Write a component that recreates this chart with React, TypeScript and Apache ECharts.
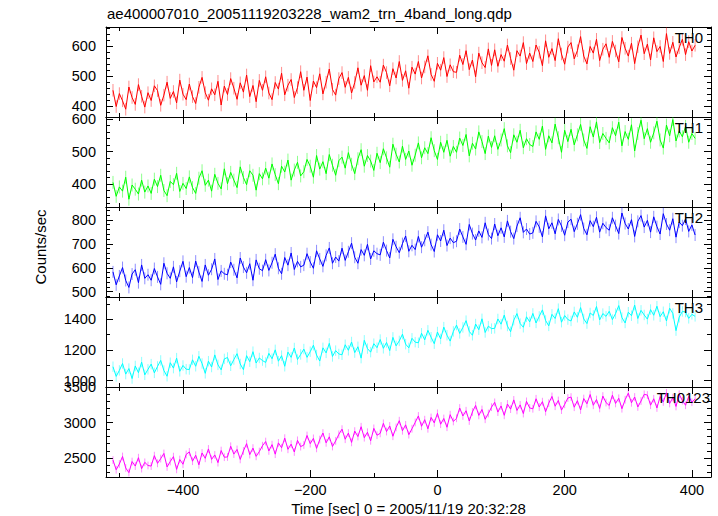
import React, { useEffect, useRef } from "react";
import * as echarts from "echarts";

const TITLE = "ae400007010_20051119203228_wam2_trn_4band_long.qdp";
const X_NAME = "Time [sec] 0 = 2005/11/19 20:32:28";
const Y_NAME = "Counts/sec";

// time bins (sec): first bin and bin width
const TIME_START = -510;
const TIME_STEP = 5;

const TH0 = [
  452, 398, 441, 417, 389, 463, 428, 405, 471, 432, 396, 444,
  418, 467, 451, 402, 436, 479, 425, 448, 410, 486, 439, 421,
  473, 431, 408, 462, 495, 444, 419, 457, 437, 482, 403, 466,
  438, 491, 459, 422, 477, 446, 503, 431, 468, 414, 485, 452,
  497, 443, 421, 478, 456, 509, 437, 469, 488, 428, 461, 514,
  452, 496, 418, 483, 461, 507, 440, 479, 523, 455, 436, 491,
  511, 462, 495, 443, 478, 527, 469, 501, 452, 534, 480, 497,
  479, 536, 511, 467, 524, 493, 548, 485, 517, 459, 529, 506,
  548, 493, 530, 567, 505, 482, 542, 519, 561, 498, 537, 514,
  512, 569, 538, 584, 521, 553, 497, 576, 544, 528, 590, 535,
  587, 532, 571, 549, 603, 558, 519, 584, 566, 611, 541, 576,
  548, 603, 579, 534, 617, 562, 591, 551, 624, 573, 539, 596,
  611, 557, 584, 631, 566, 540, 598, 576, 622, 551, 589, 607,
  562, 615, 583, 547, 628, 592, 566, 609, 541, 597, 636, 574,
  606, 553, 627, 581, 598, 548, 641, 575, 612, 563, 594, 622,
  571, 614, 583, 602,
];

const TH1 = [
  405, 362, 391, 378, 421, 353, 397, 384, 369, 412, 375, 394,
  371, 415, 392, 427, 380, 364, 408, 398, 433, 377, 402, 386,
  422, 389, 371, 418, 441, 396, 412, 378, 430, 402, 385, 447,
  401, 436, 412, 389, 453, 420, 398, 441, 427, 381, 432, 416,
  449, 418, 462, 429, 401, 455, 437, 474, 412, 443, 467, 425,
  438, 476, 455, 421, 488, 446, 469, 432, 491, 458, 427, 472,
  483, 449, 497, 461, 432, 478, 506, 455, 488, 471, 442, 495,
  466, 509, 481, 452, 523, 492, 468, 517, 476, 502, 458, 489,
  527, 481, 512, 494, 543, 503, 476, 529, 498, 535, 486, 516,
  498, 542, 519, 553, 487, 526, 508, 561, 531, 494, 548, 513,
  549, 507, 536, 571, 518, 497, 552, 529, 566, 512, 540, 522,
  516, 561, 538, 579, 507, 549, 527, 585, 543, 498, 566, 531,
  569, 521, 552, 584, 536, 510, 577, 545, 592, 528, 556, 541,
  527, 574, 549, 591, 518, 562, 538, 583, 502, 556, 597, 540,
  571, 529, 558, 594, 536, 511, 582, 549, 599, 533, 564, 546,
  578, 529, 556, 541,
];

const TH2 = [
  583, 529, 566, 601, 547, 518, 574, 592, 538, 612, 556, 571,
  548, 597, 562, 531, 619, 577, 556, 604, 541, 586, 627, 563,
  601, 559, 628, 582, 543, 612, 569, 594, 637, 551, 587, 575,
  571, 624, 592, 558, 641, 603, 579, 617, 548, 633, 596, 588,
  634, 589, 621, 657, 598, 575, 643, 611, 662, 593, 627, 604,
  611, 659, 624, 598, 671, 637, 606, 652, 683, 619, 645, 628,
  682, 631, 667, 703, 644, 619, 676, 652, 698, 637, 671, 659,
  654, 707, 672, 641, 719, 688, 663, 701, 733, 669, 694, 676,
  731, 686, 715, 749, 697, 668, 738, 712, 757, 693, 724, 705,
  711, 762, 729, 698, 781, 743, 716, 754, 727, 788, 739, 722,
  783, 734, 767, 729, 796, 751, 722, 774, 809, 748, 762, 741,
  746, 794, 771, 729, 817, 763, 788, 742, 802, 775, 736, 791,
  803, 751, 784, 822, 764, 738, 797, 772, 811, 749, 786, 768,
  757, 809, 776, 743, 829, 785, 762, 801, 731, 794, 818, 770,
  798, 749, 813, 772, 741, 826, 783, 757, 805, 728, 791, 776,
  804, 752, 779, 737,
];

const TH3 = [
  1091, 1028, 1067, 1112, 1043, 1079, 1014, 1096, 1052, 1121, 1038, 1074,
  1108, 1051, 1093, 1132, 1066, 1029, 1117, 1082, 1147, 1061, 1099, 1075,
  1073, 1136, 1094, 1159, 1112, 1048, 1127, 1089, 1168, 1103, 1071, 1142,
  1151, 1097, 1138, 1176, 1109, 1072, 1163, 1124, 1189, 1115, 1148, 1131,
  1119, 1178, 1143, 1201, 1127, 1163, 1094, 1186, 1152, 1213, 1138, 1171,
  1206, 1152, 1189, 1231, 1167, 1128, 1214, 1181, 1243, 1158, 1196, 1174,
  1169, 1234, 1198, 1252, 1183, 1221, 1147, 1263, 1209, 1186, 1241, 1215,
  1268, 1211, 1249, 1196, 1282, 1227, 1259, 1303, 1238, 1214, 1276, 1251,
  1247, 1309, 1266, 1328, 1283, 1241, 1317, 1272, 1349, 1296, 1258, 1321,
  1362, 1308, 1347, 1391, 1321, 1296, 1369, 1332, 1403, 1314, 1355, 1339,
  1341, 1402, 1368, 1427, 1356, 1319, 1394, 1437, 1372, 1348, 1416, 1383,
  1438, 1376, 1419, 1461, 1392, 1357, 1432, 1405, 1469, 1381, 1424, 1398,
  1389, 1448, 1413, 1476, 1402, 1372, 1441, 1425, 1483, 1396, 1437, 1419,
  1452, 1398, 1437, 1489, 1411, 1376, 1446, 1423, 1492, 1405, 1458, 1428,
  1401, 1463, 1426, 1485, 1417, 1449, 1389, 1472, 1438, 1326, 1413, 1451,
  1447, 1406, 1432, 1419,
];

const TH0123 = [
  2468, 2331, 2412, 2519, 2356, 2290, 2447, 2383, 2502, 2347, 2436, 2391,
  2383, 2531, 2422, 2489, 2562, 2371, 2448, 2517, 2336, 2476, 2409, 2548,
  2584, 2452, 2537, 2401, 2569, 2493, 2626, 2478, 2541, 2432, 2603, 2509,
  2512, 2664, 2553, 2619, 2478, 2597, 2701, 2546, 2638, 2521, 2589, 2672,
  2731, 2598, 2687, 2552, 2712, 2643, 2779, 2621, 2694, 2583, 2748, 2659,
  2682, 2817, 2701, 2776, 2634, 2759, 2852, 2713, 2798, 2661, 2741, 2833,
  2907, 2764, 2851, 2719, 2879, 2802, 2941, 2786, 2863, 2742, 2918, 2821,
  2847, 2989, 2873, 2952, 2806, 2931, 3027, 2884, 2968, 2829, 2913, 3002,
  3094, 2948, 3041, 2912, 3073, 2996, 3131, 2977, 3058, 2934, 3112, 3016,
  3061, 3207, 3094, 3168, 3023, 3151, 3243, 3102, 3186, 3047, 3129, 3219,
  3287, 3149, 3236, 3103, 3264, 3191, 3322, 3172, 3251, 3128, 3301, 3208,
  3196, 3338, 3221, 3297, 3154, 3276, 3371, 3232, 3314, 3177, 3259, 3349,
  3362, 3218, 3311, 3179, 3341, 3267, 3398, 3246, 3327, 3201, 3376, 3284,
  3243, 3389, 3272, 3345, 3197, 3324, 3417, 3281, 3363, 3222, 3306, 3401,
  3391, 3247, 3338, 3208, 3369, 3293, 3422, 3271, 3354, 3229, 3402, 3312,
  3246, 3371, 3289, 3337,
];

// typical 1-sigma error bar of each band (counts/sec)
const ERRORS = [21, 20, 25, 34, 55];

const PANEL_NAMES = ["TH0", "TH1", "TH2", "TH3", "TH0123"];
const PANEL_VALUES = [TH0, TH1, TH2, TH3, TH0123];
const COLORS = ["#ff0000", "#00ff00", "#0000ff", "#00ffff", "#ff00ff"];
const Y_MIN = [363, 329, 478, 959, 2228];
const Y_MAX = [663, 607, 854, 1545, 3505];
const Y_INTERVAL = [100, 100, 100, 200, 500];
const Y_MINOR_SPLIT = [5, 5, 5, 2, 5];
const X_MIN = -521;
const X_MAX = 430;
const X_INTERVAL = 200;

const FONT = "'Liberation Sans', Arial, Helvetica, sans-serif";

export default function App() {
  const ref = useRef<HTMLDivElement>(null);

  useEffect(() => {
    if (!ref.current) return;
    const chart = echarts.init(ref.current, undefined, { renderer: "svg" });

    const GRID_LEFT = 106;
    const GRID_WIDTH = 605;
    const GRID_TOP = 27;
    const PANEL_H = 90;
    const black = { color: "#000", width: 1 };

    const grids: any[] = [];
    const xAxes: any[] = [];
    const yAxes: any[] = [];
    const series: any[] = [];
    const graphics: any[] = [];

    const fmtX = (v: number) => (v < 0 ? "\u2212" + Math.abs(v) : String(v));

    PANEL_VALUES.forEach((vals, i) => {
      grids.push({
        left: GRID_LEFT,
        width: GRID_WIDTH,
        top: GRID_TOP + PANEL_H * i,
        height: PANEL_H,
        show: false,
      });
      ["bottom", "top"].forEach((pos) => {
        xAxes.push({
          type: "value",
          gridIndex: i,
          position: pos,
          min: X_MIN,
          max: X_MAX,
          splitNumber: 5,
          minInterval: X_INTERVAL,
          maxInterval: X_INTERVAL,
          axisLine: { show: true, onZero: false, lineStyle: black },
          axisTick: { show: true, inside: true, length: 7, lineStyle: black },
          minorTick: { show: true, splitNumber: 2, length: 4, lineStyle: black },
          splitLine: { show: false },
          minorSplitLine: { show: false },
          axisLabel: {
            show: pos === "bottom" && i === PANEL_VALUES.length - 1,
            showMinLabel: false,
            showMaxLabel: false,
            formatter: fmtX,
            color: "#000",
            fontSize: 14.5,
            fontFamily: FONT,
            margin: 5,
          },
        });
      });
      ["left", "right"].forEach((pos) => {
        yAxes.push({
          type: "value",
          gridIndex: i,
          position: pos,
          min: Y_MIN[i],
          max: Y_MAX[i],
          splitNumber: 3,
          minInterval: Y_INTERVAL[i],
          maxInterval: Y_INTERVAL[i],
          axisLine: { show: true, onZero: false, lineStyle: black },
          axisTick: { show: true, inside: true, length: 7, lineStyle: black },
          minorTick: { show: true, splitNumber: Y_MINOR_SPLIT[i], length: 4, lineStyle: black },
          splitLine: { show: false },
          minorSplitLine: { show: false },
          axisLabel: {
            show: pos === "left",
            showMinLabel: false,
            showMaxLabel: false,
            hideOverlap: false,
            formatter: (v: number) => String(v),
            color: "#000",
            fontSize: 14.5,
            fontFamily: FONT,
            margin: 10,
          },
        });
      });
      const err = ERRORS[i];
      const color = COLORS[i];
      series.push({
        type: "custom",
        xAxisIndex: 2 * i,
        yAxisIndex: 2 * i,
        clip: true,
        silent: true,
        z: 1,
        data: vals.map((v, k) => [TIME_START + TIME_STEP * k, v - err, v + err]),
        renderItem: (_p: any, api: any) => {
          const a = api.coord([api.value(0), api.value(1)]);
          const b = api.coord([api.value(0), api.value(2)]);
          return {
            type: "line",
            shape: { x1: a[0], y1: a[1], x2: b[0], y2: b[1] },
            style: { stroke: color, lineWidth: 1, opacity: 0.45 },
          };
        },
      });
      series.push({
        type: "line",
        xAxisIndex: 2 * i,
        yAxisIndex: 2 * i,
        data: vals.map((v, k) => [TIME_START + TIME_STEP * k, v]),
        showSymbol: false,
        symbol: "none",
        lineStyle: { color, width: 1 },
        itemStyle: { color },
        silent: true,
        z: 2,
      });
      graphics.push({
        type: "text",
        right: i === PANEL_VALUES.length - 1 ? 8 : 15,
        top: GRID_TOP + PANEL_H * i + 3,
        z: 10,
        style: {
          text: PANEL_NAMES[i],
          fill: "#000",
          font: `15px ${FONT}`,
        },
      });
    });

    graphics.push(
      {
        type: "text",
        left: 107,
        top: 6,
        style: { text: TITLE, fill: "#000", font: `15px ${FONT}` },
      },
      {
        type: "text",
        x: 40,
        y: 247,
        rotation: Math.PI / 2,
        style: {
          text: Y_NAME,
          fill: "#000",
          font: `15px ${FONT}`,
          align: "center",
          verticalAlign: "middle",
        },
      },
      {
        type: "text",
        x: GRID_LEFT + GRID_WIDTH / 2,
        y: 508,
        style: {
          text: X_NAME,
          fill: "#000",
          font: `15px ${FONT}`,
          align: "center",
          verticalAlign: "middle",
        },
      }
    );

    chart.setOption({
      animation: false,
      backgroundColor: "#fff",
      grid: grids,
      xAxis: xAxes,
      yAxis: yAxes,
      series,
      graphic: graphics,
    });

    return () => chart.dispose();
  }, []);

  return <div ref={ref} style={{ width: 718, height: 516, position: "absolute", left: 0, top: 0 }} />;
}
